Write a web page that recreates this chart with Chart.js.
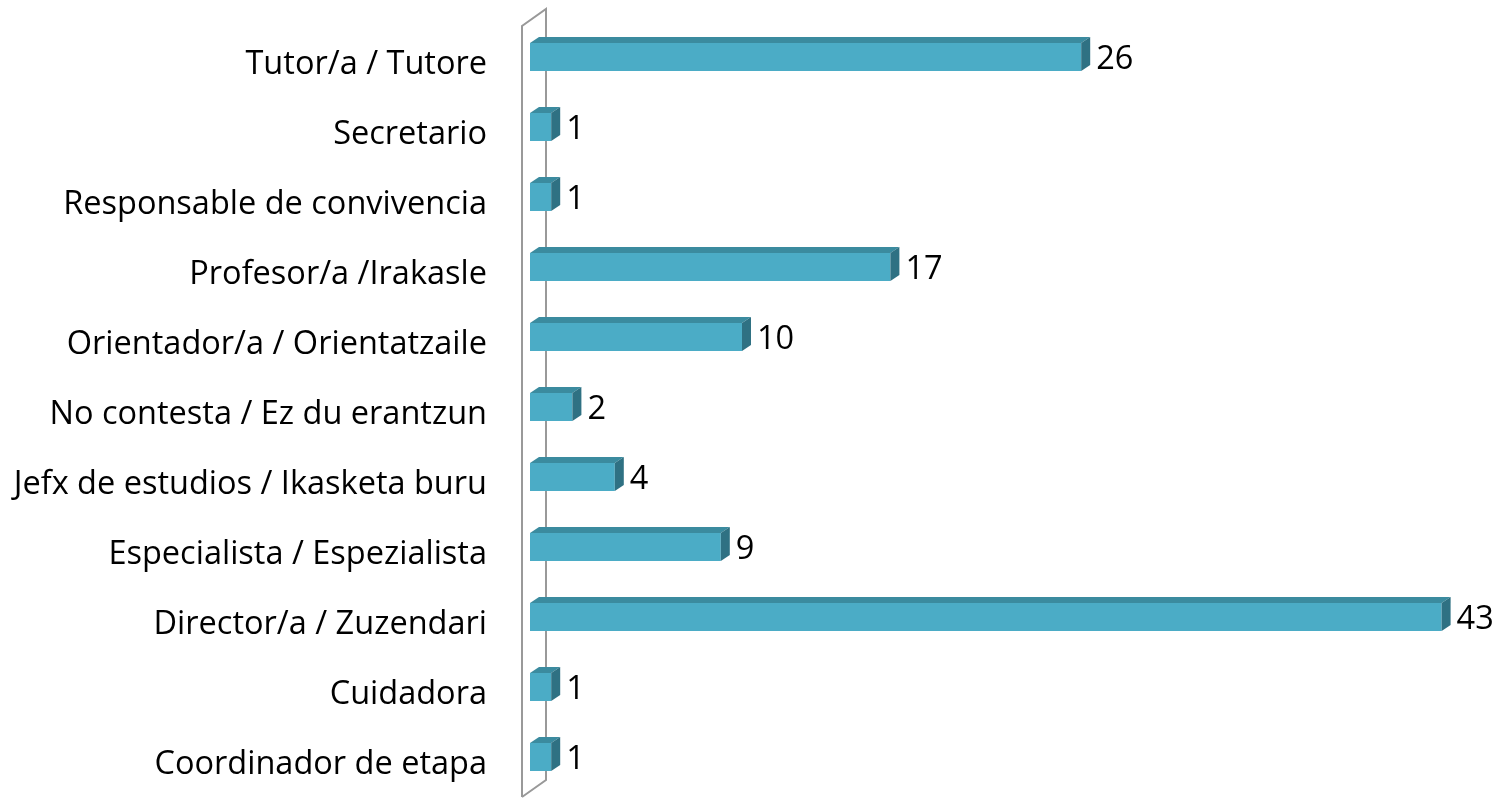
<!DOCTYPE html>
<html>
<head>
<meta charset="utf-8">
<script src="https://cdn.jsdelivr.net/npm/chart.js@4.4.1/dist/chart.umd.min.js"></script>
<style>
  html, body { margin: 0; padding: 0; background: #fff; overflow: hidden; }
  canvas { display: block; }
</style>
</head>
<body>
<canvas id="myChart" width="1501" height="799"></canvas>
<script>
const categories = ['Tutor/a / Tutore', 'Secretario', 'Responsable de convivencia', 'Profesor/a /Irakasle',
  'Orientador/a / Orientatzaile', 'No contesta / Ez du erantzun', 'Jefx de estudios / Ikasketa buru',
  'Especialista / Espezialista', 'Director/a / Zuzendari', 'Cuidadora', 'Coordinador de etapa'];
const counts = [26, 1, 1, 17, 10, 2, 4, 9, 43, 1, 1];

const FONT = '"Open Sans", sans-serif';
const FSIZE = 32.5;
const DX = 9, DY = -6;

// back wall + 3D faces of the bars + value labels
const threeD = {
  id: 'threeD',
  beforeDatasetsDraw(chart) {
    const {ctx, chartArea: a} = chart;
    ctx.save();
    ctx.strokeStyle = '#999999';
    ctx.lineWidth = 2;
    ctx.beginPath();
    ctx.moveTo(a.left - 8, a.bottom + 5);
    ctx.lineTo(a.left - 8, a.top + 4);
    ctx.lineTo(a.left + 16, a.top - 13);
    ctx.lineTo(a.left + 16, a.bottom - 12);
    ctx.lineTo(a.left - 8, a.bottom + 5);
    ctx.stroke();
    ctx.restore();
  },
  afterDatasetsDraw(chart) {
    const ctx = chart.ctx;
    const meta = chart.getDatasetMeta(0);
    ctx.save();
    meta.data.forEach((bar, i) => {
      const x0 = bar.base, x1 = bar.x;
      const top = bar.y - bar.height / 2, bot = bar.y + bar.height / 2;
      ctx.fillStyle = '#3b8b9f';
      ctx.beginPath();
      ctx.moveTo(x0, top);
      ctx.lineTo(x0 + DX, top + DY);
      ctx.lineTo(x1 + DX, top + DY);
      ctx.lineTo(x1, top);
      ctx.closePath();
      ctx.fill();
      ctx.fillStyle = '#2f7183';
      ctx.beginPath();
      ctx.moveTo(x1, top);
      ctx.lineTo(x1 + DX, top + DY);
      ctx.lineTo(x1 + DX, bot + DY);
      ctx.lineTo(x1, bot);
      ctx.closePath();
      ctx.fill();

      ctx.fillStyle = '#000';
      ctx.font = FSIZE + 'px ' + FONT;
      ctx.textAlign = 'left';
      ctx.textBaseline = 'middle';
      ctx.fillText(counts[i], x1 + DX + 6, bar.y + 3);
    });
    ctx.restore();
  }
};

new Chart(document.getElementById('myChart'), {
  type: 'bar',
  data: {
    labels: categories,
    datasets: [{
      data: counts,
      backgroundColor: '#4bacc6',
      borderWidth: 0,
      barPercentage: 0.4,
      categoryPercentage: 1
    }]
  },
  options: {
    indexAxis: 'y',
    responsive: false,
    animation: false,
    layout: { padding: { top: 22, bottom: 7, right: 17 } },
    plugins: {
      legend: { display: false },
      tooltip: { enabled: false }
    },
    scales: {
      x: { display: false, min: 0, max: 45 },
      y: {
        grid: { display: false, drawTicks: false },
        border: { display: false },
        ticks: { color: '#000', padding: 43, labelOffset: 8, font: { family: FONT, size: FSIZE } },
        afterFit(scale) {
          scale.width = 530;
          scale.paddingTop = 0;
          scale.paddingBottom = 0;
        }
      }
    }
  },
  plugins: [threeD]
});
</script>
</body>
</html>
